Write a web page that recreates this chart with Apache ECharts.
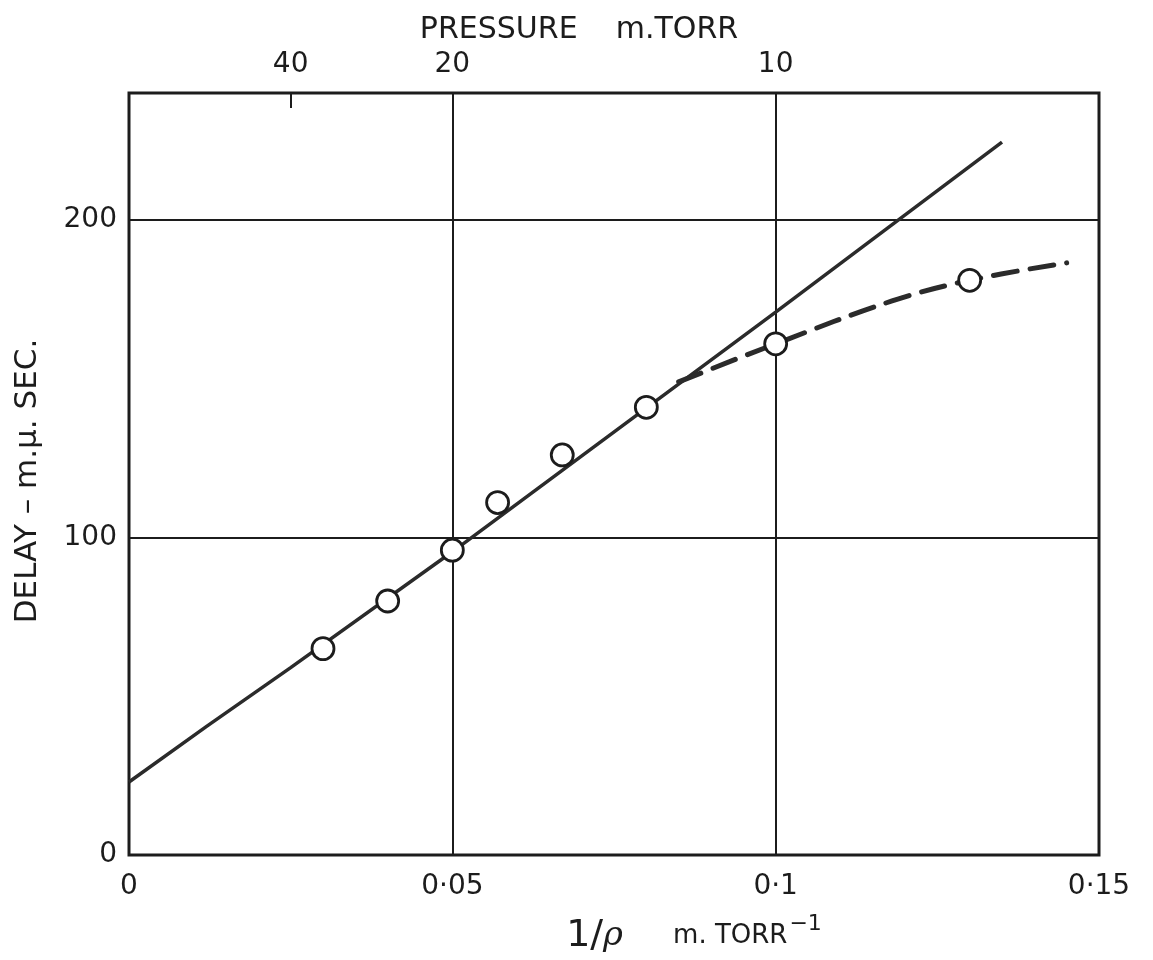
<!DOCTYPE html>
<html>
<head>
<meta charset="utf-8">
<script src="https://cdn.jsdelivr.net/npm/echarts@6/dist/echarts.min.js"></script>
<style>
html, body { margin: 0; padding: 0; background: #fff; }
#app { width: 1153px; height: 960px; }
</style>
</head>
<body>
<div id="app"></div>
<script>
// measured points, 1/p (m.torr^-1) against delay (m.mu sec)
var pointX = [0.03, 0.04, 0.05, 0.057, 0.067, 0.08, 0.1, 0.13];
var pointY = [65, 80, 96, 111, 126, 141, 161, 181];
// straight fit line
var fitX = [0, 0.012, 0.025, 0.05, 0.1, 0.135];
var fitY = [23, 40.5, 59, 95.5, 171, 224.5];
// dashed branch at low pressure
var bendX = [0.085, 0.1, 0.118, 0.13, 0.145];
var bendY = [149, 161, 174.5, 181, 186.5];
// axis labels
var xTicks = [0, 0.05, 0.1, 0.15];
var yTicks = [0, 100, 200];
var pressureTicks = [40, 20, 10];

var ink = '#1c1c1c';

function toPairs(xs, ys) {
    return xs.map(function (x, i) { return [x, ys[i]]; });
}
function dotLabel(v) {
    return String(+v.toFixed(3)).replace('.', '·');
}

var chart = echarts.init(document.getElementById('app'));
chart.setOption({
    backgroundColor: '#fff',
    animation: false,
    textStyle: { fontFamily: 'DejaVu Sans', color: ink },
    grid: {
        left: 129, right: 54, top: 93, bottom: 105,
        outerBoundsMode: 'none',
        show: true, borderColor: ink, borderWidth: 3, backgroundColor: 'transparent'
    },
    xAxis: [{
        type: 'value', position: 'bottom', min: 0, max: 0.15, interval: 0.05,
        axisLine: { show: false },
        axisTick: { show: false },
        splitLine: { lineStyle: { color: ink, width: 2 } },
        axisLabel: { customValues: xTicks, formatter: dotLabel, fontSize: 28, color: ink, margin: 18 },
        name: '{a|1/}{r|ρ}{b|m. TORR}{c|−1}',
        nameLocation: 'middle', nameGap: 58,
        nameTextStyle: {
            padding: [0, 0, 0, 160],
            rich: {
                a: { fontSize: 38, color: ink, fontFamily: 'DejaVu Sans' },
                r: { fontSize: 34, color: ink, fontStyle: 'italic', fontFamily: 'DejaVu Serif' },
                b: { fontSize: 26, color: ink, padding: [0, 0, 0, 50], fontFamily: 'DejaVu Sans' },
                c: { fontSize: 22, color: ink, verticalAlign: 'top', padding: [0, 0, 24, 2], fontFamily: 'DejaVu Sans' }
            }
        }
    }, {
        type: 'value', position: 'top', min: 0, max: 0.15,
        axisLine: { show: false },
        splitLine: { show: false },
        axisTick: {
            show: true, inside: true, length: 15,
            customValues: [1 / pressureTicks[0]],
            lineStyle: { color: ink, width: 2 }
        },
        axisLabel: {
            customValues: pressureTicks.map(function (p) { return 1 / p; }),
            formatter: function (v) { return String(Math.round(1 / v)); },
            fontSize: 28, color: ink, margin: 14
        },
        name: 'PRESSURE    m.TORR',
        nameLocation: 'middle', nameGap: 48,
        nameTextStyle: { fontSize: 30, color: ink, padding: [0, 70, 0, 0] }
    }],
    yAxis: [{
        type: 'value', min: 0, max: 240, interval: 100,
        axisLine: { show: false },
        axisTick: { show: false },
        splitLine: { lineStyle: { color: ink, width: 2 } },
        axisLabel: { customValues: yTicks, fontSize: 28, color: ink, margin: 12 },
        name: 'DELAY – m.μ. SEC.',
        nameLocation: 'middle', nameRotate: 90, nameGap: 86,
        nameTextStyle: { fontSize: 31, color: ink, padding: [0, 14, 0, 0] }
    }],
    series: [{
        name: 'fit',
        type: 'line',
        data: toPairs(fitX, fitY),
        showSymbol: false,
        lineStyle: { color: '#2b2b2b', width: 3.5 },
        z: 3
    }, {
        name: 'bend',
        type: 'line',
        data: toPairs(bendX, bendY),
        smooth: 0.4,
        showSymbol: false,
        lineStyle: { color: '#2b2b2b', width: 5, type: [24, 13], cap: 'round' },
        z: 3
    }, {
        name: 'measured',
        type: 'scatter',
        data: toPairs(pointX, pointY),
        symbol: 'circle',
        symbolSize: 22,
        itemStyle: { color: '#fff', borderColor: ink, borderWidth: 2.8, opacity: 1 },
        z: 5
    }]
});
</script>
</body>
</html>
